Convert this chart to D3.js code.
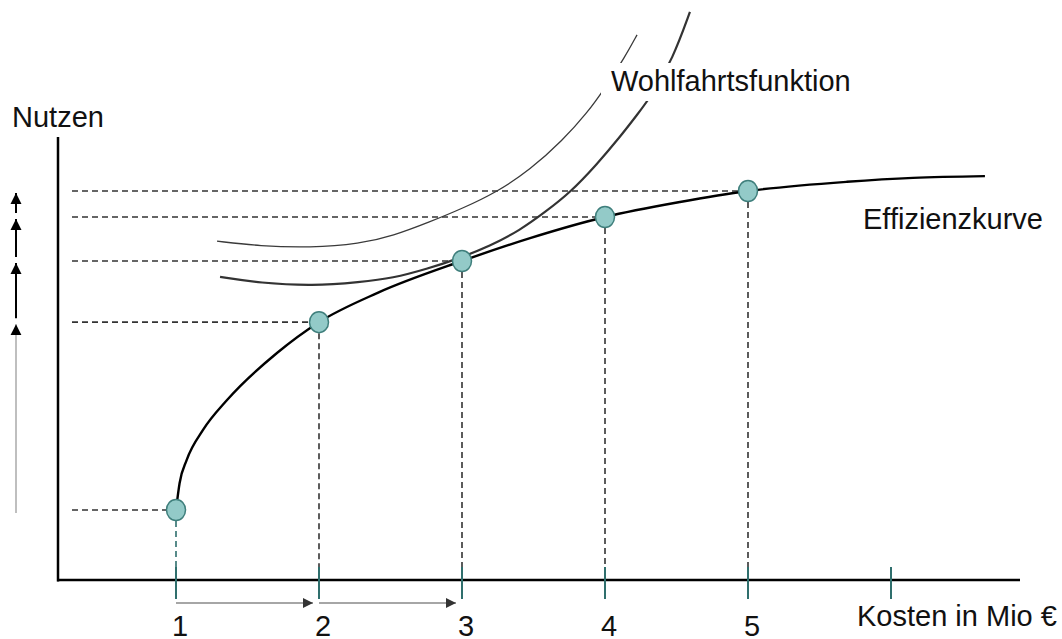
<!DOCTYPE html>
<html>
<head>
<meta charset="utf-8">
<script src="https://cdn.jsdelivr.net/npm/d3@7"></script>
<style>
  html, body { margin: 0; padding: 0; background: #fff; }
  svg { display: block; }
  text { font-family: "Liberation Sans", Arial, sans-serif; fill: #111; }
</style>
</head>
<body>
<svg id="chart" width="1062" height="639"></svg>
<script>
// ---------- data ----------
const costTicks = [1, 2, 3, 4, 5, 6];
const costLabels = ["1", "2", "3", "4", "5"];
const pointCost = [1, 2, 3, 4, 5];
const pointNutzen = [1.59, 5.86, 7.25, 8.25, 8.84];

const effCost =   [1.00, 1.025, 1.075, 1.189, 1.357, 1.706, 2.00, 2.406, 3.00, 3.476, 4.00, 4.524, 5.00, 5.692, 6.154, 6.657];
const effNutzen = [1.59, 2.20,  2.73,  3.41,  4.09,  5.16,  5.86, 6.52,  7.25, 7.77,  8.25, 8.59,  8.84, 9.05,  9.14,  9.18];

const wfACost =   [1.287, 1.587, 1.937, 2.287, 2.517, 2.776, 3.007, 3.245, 3.476, 3.706, 3.874, 4.000, 4.140, 4.224];
const wfANutzen = [7.70,  7.59,  7.55,  7.64,  7.82,  8.14,  8.45,  8.82,  9.32,  10.00, 10.61, 11.18, 11.89, 12.39];

const wfBCost =   [1.308, 1.587, 1.958, 2.287, 2.517, 2.755, 2.972, 3.196, 3.406, 3.580, 3.755, 3.944, 4.105, 4.224, 4.329, 4.476, 4.594];
const wfBNutzen = [6.89,  6.75,  6.68,  6.77,  6.86,  7.07,  7.30,  7.59,  7.95,  8.36,  8.80,  9.45,  10.07, 10.57, 11.02, 11.86, 12.91];

const labelY = "Nutzen";
const labelX = "Kosten in Mio €";
const labelWf = "Wohlfahrtsfunktion";
const labelEff = "Effizienzkurve";

// ---------- setup ----------
const svg = d3.select("#chart");
const x = d3.scaleLinear().domain([1, 5]).range([176, 748]);
const y = d3.scaleLinear().domain([0, 10]).range([580, 140]);

const FS = 29;
const teal = "#2f6f6d";
const dash = "#333";

const defs = svg.append("defs");
defs.append("marker").attr("id", "headR")
  .attr("viewBox", "0 0 10 10").attr("refX", 10).attr("refY", 5)
  .attr("markerUnits", "userSpaceOnUse").attr("markerWidth", 11).attr("markerHeight", 10)
  .attr("orient", "auto")
  .append("path").attr("d", "M0,0 L10,5 L0,10 Z").attr("fill", "#333");
defs.append("marker").attr("id", "headU")
  .attr("viewBox", "0 0 10 10").attr("refX", 10).attr("refY", 5)
  .attr("markerUnits", "userSpaceOnUse").attr("markerWidth", 11).attr("markerHeight", 12)
  .attr("orient", "auto")
  .append("path").attr("d", "M0,0 L10,5 L0,10 Z").attr("fill", "#000");

// ---------- dashed guide lines ----------
const pts = pointCost.map((c, i) => ({c, n: pointNutzen[i]}));
svg.append("g").selectAll("line").data(pts).join("line")
  .attr("x1", 72).attr("x2", d => x(d.c) - 9)
  .attr("y1", d => y(d.n)).attr("y2", d => y(d.n))
  .attr("stroke", dash).attr("stroke-width", 1.6).attr("stroke-dasharray", "6,4");
svg.append("g").selectAll("line").data(pts).join("line")
  .attr("x1", d => x(d.c)).attr("x2", d => x(d.c))
  .attr("y1", d => y(d.n) + 11).attr("y2", y(0))
  .attr("stroke", (d, i) => i === 0 ? teal : dash).attr("stroke-width", 1.6).attr("stroke-dasharray", "6,4");

// ---------- axes ----------
svg.append("line").attr("x1", 58).attr("x2", 58).attr("y1", 137).attr("y2", y(0) + 1.5)
  .attr("stroke", "#000").attr("stroke-width", 2.5);
svg.append("line").attr("x1", 57).attr("x2", 1020).attr("y1", y(0)).attr("y2", y(0))
  .attr("stroke", "#000").attr("stroke-width", 2.5);

svg.append("g").selectAll("line").data(costTicks).join("line")
  .attr("x1", d => x(d)).attr("x2", d => x(d))
  .attr("y1", y(0) - 13).attr("y2", y(0) + 19)
  .attr("stroke", teal).attr("stroke-width", 2);

svg.append("g").selectAll("text").data(costLabels).join("text")
  .attr("x", (d, i) => x(costTicks[i]) + 4).attr("y", 636)
  .attr("text-anchor", "middle").attr("font-size", FS).text(d => d);

// bottom arrows (cost steps 1->2, 2->3)
svg.append("g").selectAll("line").data([0, 1]).join("line")
  .attr("x1", i => x(pointCost[i])).attr("x2", i => x(pointCost[i + 1]) - 6)
  .attr("y1", 603).attr("y2", 603)
  .attr("stroke", "#888").attr("stroke-width", 1.5)
  .attr("marker-end", "url(#headR)");

// left arrows (utility steps)
svg.append("g").selectAll("line").data([0, 1, 2, 3]).join("line")
  .attr("x1", 16).attr("x2", 16)
  .attr("y1", i => i === 0 ? y(pointNutzen[0]) + 3 : y(pointNutzen[i]) - 4)
  .attr("y2", i => y(pointNutzen[i + 1]) + 2)
  .attr("stroke", i => i === 0 ? "#aaa" : "#000")
  .attr("stroke-width", i => i === 0 ? 1.5 : 2)
  .attr("marker-end", "url(#headU)");

// ---------- curves ----------
const line = d3.line().x(d => x(d[0])).y(d => y(d[1])).curve(d3.curveMonotoneX);
const smooth = d3.line().x(d => x(d[0])).y(d => y(d[1])).curve(d3.curveBasis);

svg.append("path").datum(wfACost.map((c, i) => [c, wfANutzen[i]]))
  .attr("d", smooth).attr("fill", "none").attr("stroke", "#3a3a3a").attr("stroke-width", 1.3);
svg.append("path").datum(wfBCost.map((c, i) => [c, wfBNutzen[i]]))
  .attr("d", smooth).attr("fill", "none").attr("stroke", "#333").attr("stroke-width", 2.2);

svg.append("path").datum(effCost.map((c, i) => [c, effNutzen[i]]))
  .attr("d", line).attr("fill", "none").attr("stroke", "#000").attr("stroke-width", 2.4);

// points
svg.append("g").selectAll("ellipse").data(pts).join("ellipse")
  .attr("cx", d => x(d.c)).attr("cy", d => y(d.n))
  .attr("rx", 9.5).attr("ry", 10.5)
  .attr("fill", "#93cac8").attr("stroke", "#3f7f7c").attr("stroke-width", 1.5);

// ---------- labels ----------
const wfG = svg.append("g");
const wfRect = wfG.append("rect").attr("fill", "#fff");
const wfText = wfG.append("text").attr("x", 611).attr("y", 91).attr("font-size", FS).text(labelWf);
const bb = wfText.node().getBBox();
wfRect.attr("x", bb.x - 10).attr("y", bb.y - 2).attr("width", bb.width + 14).attr("height", bb.height + 6);

svg.append("text").attr("x", 863).attr("y", 229).attr("font-size", FS).text(labelEff);
svg.append("text").attr("x", 12).attr("y", 127).attr("font-size", FS).text(labelY);
svg.append("text").attr("x", 857).attr("y", 626).attr("font-size", FS).text(labelX);
</script>
</body>
</html>
